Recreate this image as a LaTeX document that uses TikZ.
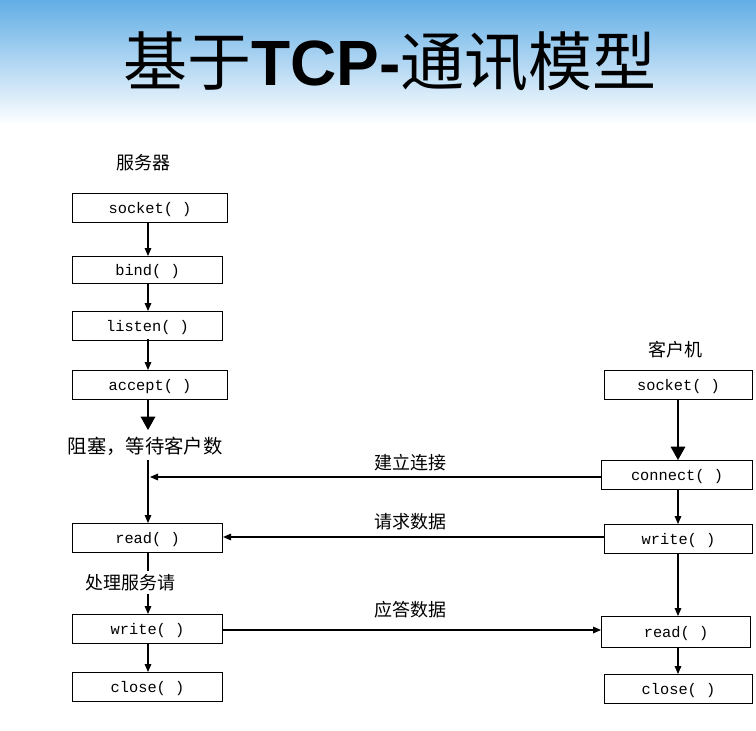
\documentclass[tikz,border=0pt]{standalone}
\usepackage{fontspec}
\setmainfont{Liberation Mono}
\newfontfamily\cjk{Noto Sans CJK SC}
\newfontfamily\hd{Liberation Sans}
\usetikzlibrary{arrows.meta}
\definecolor{topblue}{RGB}{98,174,230}
\begin{document}
\begin{tikzpicture}[x=0.75pt,y=-0.75pt,
  fn/.style={draw,thick,minimum height=21.5pt,inner sep=0pt,font=\fontsize{11.5}{12}\selectfont,anchor=north west,text depth=0pt},
  lb/.style={font=\cjk\fontsize{13.5}{14}\selectfont,inner sep=1pt},
  sa/.style={-{Triangle[length=6pt,width=5pt]},thick},
  ba/.style={-{Triangle[length=10pt,width=11pt]},thick}]
\useasboundingbox (0,0) rectangle (756,731);
\shade[top color=topblue,bottom color=white] (0,0) rectangle (756,125);
\node (title) at (390,62) {\cjk\fontsize{48}{52}\selectfont 基于{\hd\bfseries TCP-}通讯模型};
% server
\node[lb] (srv) at (143,163) {服务器};
\node[fn,minimum width=116.25pt] (s1) at (72,193) {socket( )};
\node[fn,minimum width=112.5pt,minimum height=20pt] (s2) at (72,256) {bind( )};
\node[fn,minimum width=112.5pt] (s3) at (72,311) {listen( )};
\node[fn,minimum width=116.25pt] (s4) at (72,370) {accept( )};
\node[lb,font=\cjk\fontsize{14.5}{15}\selectfont] (blk) at (145,446) {阻塞，等待客户数};
\node[fn,minimum width=112.5pt] (s5) at (72,523) {read( )};
\node[lb] (proc) at (130,583) {处理服务请};
\node[fn,minimum width=112.5pt] (s6) at (72,614) {write( )};
\node[fn,minimum width=112.5pt] (s7) at (72,672) {close( )};
\draw[sa] (148,222) -- (148,256);
\draw[sa] (148,283) -- (148,311);
\draw[sa] (148,339) -- (148,370);
\draw[ba] (148,400) -- (148,430);
\draw[sa] (148,460) -- (148,523);
\draw[sa] (148,552) -- (148,571) (148,594) -- (148,614);
\draw[sa] (148,644) -- (148,672);
% client
\node[lb] (cli) at (675,350) {客户机};
\node[fn,minimum width=111pt] (c1) at (604,370) {socket( )};
\node[fn,minimum width=113.25pt] (c2) at (601,460) {connect( )};
\node[fn,minimum width=111pt] (c3) at (604,524) {write( )};
\node[fn,minimum width=111.75pt,minimum height=23pt] (c4) at (601,616) {read( )};
\node[fn,minimum width=111pt] (c5) at (604,674) {close( )};
\draw[ba] (678,399) -- (678,460);
\draw[sa] (678,490) -- (678,524);
\draw[sa] (678,553) -- (678,616);
\draw[sa] (678,647) -- (678,674);
% messages
\coordinate (join) at (150,477);
\draw[sa] (c2.west |- join) -- (join);
\node[lb] (m1) at (410,463) {建立连接};
\draw[sa] (c3.west |- 0,537) -- (s5.east |- 0,537);
\node[lb] (m2) at (410,522) {请求数据};
\draw[sa] (s6.east |- 0,630) -- (c4.west |- 0,630);
\node[lb] (m3) at (410,610) {应答数据};
\end{tikzpicture}
\end{document}
